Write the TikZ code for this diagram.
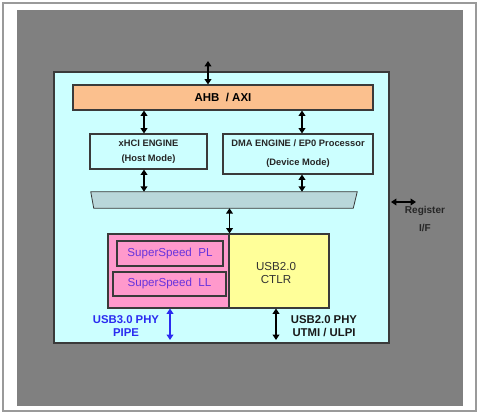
\documentclass[tikz,border=0pt]{standalone}
\usepackage{fontspec}
\setmainfont{Liberation Sans}
\usetikzlibrary{arrows.meta,calc}
\definecolor{bggray}{HTML}{808080}
\definecolor{framegray}{HTML}{9A9A9A}
\definecolor{cyanbg}{HTML}{CCFFFF}
\definecolor{peach}{HTML}{FBC08E}
\definecolor{muxfill}{HTML}{B9D7DA}
\definecolor{pinkfill}{HTML}{FF99CC}
\definecolor{yellowfill}{HTML}{FFFF99}
\definecolor{ssblue}{HTML}{6633DD}
\definecolor{phyblue}{HTML}{2B2BF0}
\definecolor{edge}{HTML}{3A3A3A}
\tikzset{
  box/.style={draw=edge, line width=0.8pt, inner sep=0pt, align=center},
  dbl/.style={line width=1.1pt, {Triangle[width=5pt,length=4pt]}-{Triangle[width=5pt,length=4pt]}},
  boldlab/.style={font=\bfseries\fontsize{8.5}{10}\selectfont, align=center, inner sep=0pt},
}
\begin{document}
\begin{tikzpicture}[x=0.75pt,y=-0.75pt]
\useasboundingbox (0,0) rectangle (480,416);
% frame and background
\node[draw=framegray, line width=0.9pt, fill=white, inner sep=0pt, minimum width=354.75pt, minimum height=306pt] (frame) at (239.5,207) {};
\node[fill=bggray, inner sep=0pt, minimum width=334.5pt, minimum height=297pt] (bg) at (240,208) {};
% main cyan block
\node[box, fill=cyanbg, line width=1pt, minimum width=251.25pt, minimum height=203.25pt] (main) at (221.5,207.5) {};
% AHB
\node[box, fill=peach, minimum width=225pt, minimum height=18.75pt, font=\bfseries\fontsize{8.6}{10}\selectfont] (ahb) at (223,97.5) {AHB\ \ / AXI};
% engines
\node[box, fill=cyanbg, minimum width=87.75pt, minimum height=26.25pt, text=black!85, font=\bfseries\fontsize{7}{11.25}\selectfont] (xhci) at (148.5,151.5) {xHCI ENGINE\\(Host Mode)};
\node[box, fill=cyanbg, minimum width=112.5pt, minimum height=30pt, text=black!85, font=\bfseries\fontsize{7}{14.25}\selectfont] (dma) at (298,154) {DMA ENGINE / EP0 Processor\\(Device Mode)};
% mux trapezoid
\node[inner sep=0pt, minimum width=199.5pt, minimum height=12pt] (mux) at (224,200) {};
\draw[draw=edge, line width=0.6pt, fill=muxfill] (mux.north west) -- (mux.north east) -- ($(mux.south east)+(-4,0)$) -- ($(mux.south west)+(3,0)$) -- cycle;
% bottom block
\node[box, fill=pinkfill, minimum width=90.75pt, minimum height=55.5pt] (pink) at (168.5,271) {};
\node[box, fill=yellowfill, minimum width=75pt, minimum height=55.5pt] (yellow) at (279,271) {};
\node[font=\fontsize{8.7}{9.75}\selectfont, text=black!80, align=center, inner sep=0pt] (ctlr) at (276,273) {USB2.0\\CTLR};
\node[box, fill=pinkfill, minimum width=79.5pt, minimum height=18.75pt, text=ssblue, font=\fontsize{8.7}{10}\selectfont] (pl) at (170,253.5) {SuperSpeed\ \ PL};
\node[box, fill=pinkfill, minimum width=84.75pt, minimum height=18pt, text=ssblue, font=\fontsize{8.7}{10}\selectfont] (ll) at (169.5,284) {SuperSpeed\ \ LL};
% free arrow ends
\coordinate (topend) at (208,61);
\coordinate (ssend) at (170,340);
\coordinate (hsend) at (276,340);
\coordinate (regl) at (391,202);
\coordinate (regr) at (416,202);
% arrows
\draw[dbl] (topend) -- (topend |- ahb.north);
\draw[dbl] (ahb.south -| 144,0) -- (xhci.north -| 144,0);
\draw[dbl] (ahb.south -| 302,0) -- (dma.north -| 302,0);
\draw[dbl] (xhci.south -| 144,0) -- (mux.north -| 144,0);
\draw[dbl] (dma.south -| 302,0) -- (mux.north -| 302,0);
\draw[dbl] (mux.south -| pink.north east) -- (pink.north east);
\draw[dbl, draw=phyblue, fill=phyblue] (pink.south -| ssend) -- (ssend);
\draw[dbl] (yellow.south -| hsend) -- (hsend);
\draw[dbl] (regl) -- (regr);
% labels
\node[boldlab, text=phyblue, font=\bfseries\fontsize{8.5}{9.75}\selectfont] (usb3lab) at (126,326.5) {USB3.0 PHY\\PIPE};
\node[boldlab, text=black!90, font=\bfseries\fontsize{8.5}{9.75}\selectfont] (usb2lab) at (324,326.5) {USB2.0 PHY\\UTMI / ULPI};
\node[boldlab, text=black!85, font=\bfseries\fontsize{7.5}{13.5}\selectfont] (reglab) at (425,219) {Register\\I/F};
\end{tikzpicture}
\end{document}
